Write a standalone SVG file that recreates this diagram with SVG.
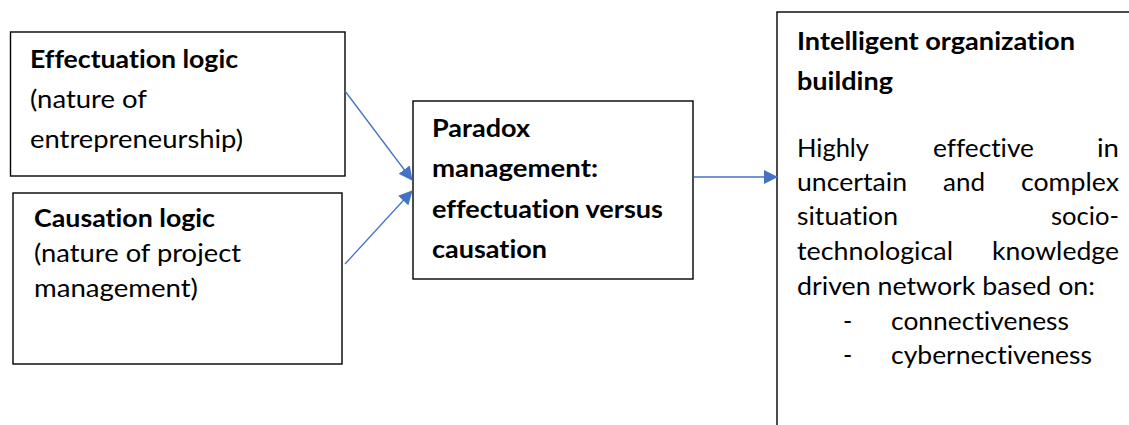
<svg xmlns="http://www.w3.org/2000/svg" width="1129" height="425" viewBox="0 0 1129 425">
<style>
.box{fill:#fff;stroke:#000;stroke-width:1.4}
text{font-family:Lato,"Open Sans","Liberation Sans",sans-serif;font-size:25px;fill:#000;font-variant-ligatures:none}
.b{font-weight:bold}
.conn{stroke:#4472C4;stroke-width:1.3;fill:none}
</style>
<defs>
<marker id="ah" markerWidth="14" markerHeight="14" refX="13" refY="7" orient="auto" markerUnits="userSpaceOnUse">
<path d="M0,0 L14,7 L0,14 Z" fill="#4472C4"/>
</marker>
</defs>
<rect width="1129" height="425" fill="#fff"/>
<g id="effectuation">
<rect class="box" x="10.5" y="32" width="334.5" height="144"/>
<text class="b" x="30" y="68" textLength="208" lengthAdjust="spacingAndGlyphs">Effectuation logic</text>
<text x="30" y="108" textLength="117" lengthAdjust="spacingAndGlyphs">(nature of</text>
<text x="30" y="148" textLength="213" lengthAdjust="spacingAndGlyphs">entrepreneurship)</text>
</g>
<g id="causation">
<rect class="box" x="13" y="193" width="329" height="171"/>
<text class="b" x="34" y="227" textLength="181" lengthAdjust="spacingAndGlyphs">Causation logic</text>
<text x="34" y="262" textLength="207" lengthAdjust="spacingAndGlyphs">(nature of project</text>
<text x="34" y="297" textLength="164" lengthAdjust="spacingAndGlyphs">management)</text>
</g>
<g id="paradox">
<rect class="box" x="413" y="101" width="280" height="178"/>
<text class="b" x="432" y="137" textLength="98" lengthAdjust="spacingAndGlyphs">Paradox</text>
<text class="b" x="432" y="177" textLength="166" lengthAdjust="spacingAndGlyphs">management:</text>
<text class="b" x="432" y="218" textLength="231" lengthAdjust="spacingAndGlyphs">effectuation versus</text>
<text class="b" x="432" y="258" textLength="115" lengthAdjust="spacingAndGlyphs">causation</text>
</g>
<g id="intelligent">
<rect class="box" x="777" y="12" width="400" height="450"/>
<text class="b" x="797" y="50" textLength="278" lengthAdjust="spacingAndGlyphs">Intelligent organization</text>
<text class="b" x="797" y="90" textLength="96" lengthAdjust="spacingAndGlyphs">building</text>
<text x="797" y="157" textLength="72" lengthAdjust="spacingAndGlyphs">Highly</text>
<text x="933" y="157" textLength="101" lengthAdjust="spacingAndGlyphs">effective</text>
<text x="1097" y="157" textLength="22" lengthAdjust="spacingAndGlyphs">in</text>
<text x="797" y="191" textLength="110" lengthAdjust="spacingAndGlyphs">uncertain</text>
<text x="943" y="191" textLength="42" lengthAdjust="spacingAndGlyphs">and</text>
<text x="1021" y="191" textLength="98" lengthAdjust="spacingAndGlyphs">complex</text>
<text x="797" y="225" textLength="101" lengthAdjust="spacingAndGlyphs">situation</text>
<text x="1051" y="225" textLength="68" lengthAdjust="spacingAndGlyphs">socio-</text>
<text x="797" y="260" textLength="156" lengthAdjust="spacingAndGlyphs">technological</text>
<text x="992" y="260" textLength="127" lengthAdjust="spacingAndGlyphs">knowledge</text>
<text x="797" y="295" textLength="298" lengthAdjust="spacingAndGlyphs">driven network based on:</text>
<text x="843" y="330">-</text>
<text x="891" y="330" textLength="178" lengthAdjust="spacingAndGlyphs">connectiveness</text>
<text x="843" y="364">-</text>
<text x="891" y="364" textLength="201" lengthAdjust="spacingAndGlyphs">cybernectiveness</text>
</g>
<g id="connectors">
<line class="conn" x1="345" y1="91" x2="412" y2="180" marker-end="url(#ah)"/>
<line class="conn" x1="345" y1="264" x2="412" y2="191" marker-end="url(#ah)"/>
<line class="conn" x1="694" y1="177" x2="777" y2="177" marker-end="url(#ah)"/>
</g>
</svg>
